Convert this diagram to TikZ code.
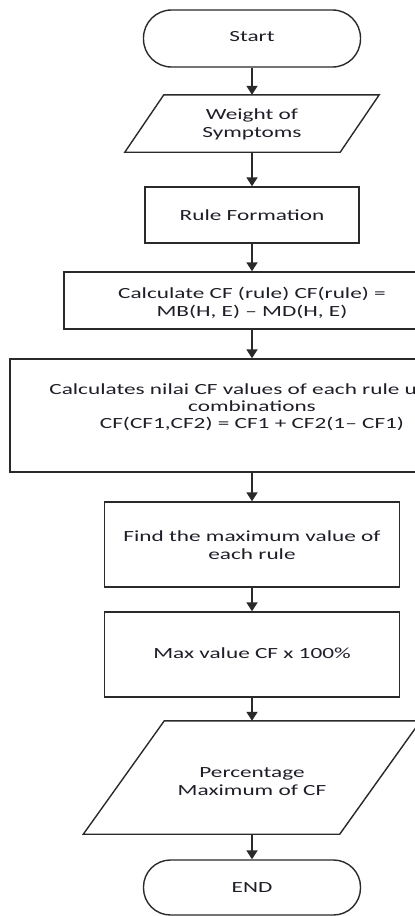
\documentclass[tikz,border=0pt]{standalone}
\usepackage{fontspec}
\setmainfont[FakeStretch=1.5]{Carlito}
\usetikzlibrary{arrows.meta,calc}
\definecolor{ln}{HTML}{2A2A2A}
\definecolor{tx}{HTML}{1E1E28}
\begin{document}
\begin{tikzpicture}[x=1pt,y=-1pt,
  shp/.style={draw=ln, line width=1.4pt, inner sep=0pt},
  hold/.style={inner sep=0pt},
  txt/.style={inner sep=0pt, text=tx, font=\fontsize{15.5}{18}\selectfont, align=center},
  arr/.style={draw=ln, line width=1.8pt, -{Triangle[width=11pt,length=9pt]}}]
\useasboundingbox (0,0) rectangle (415,916);
\clip (0,0) rectangle (415,916);
% shapes
\node[shp, rounded corners=28pt, minimum width=217pt, minimum height=57pt] (start) at (252,38.5) {};
\node[hold, minimum width=215pt, minimum height=57pt] (weight) at (252,123.5) {};
\draw[shp] ($(weight.north west)+(19.5,0)$) -- ($(weight.north east)+(19.5,0)$) -- ($(weight.south east)+(-19.5,0)$) -- ($(weight.south west)+(-19.5,0)$) -- cycle;
\node[shp, minimum width=214pt, minimum height=56pt] (rule) at (252,215) {};
\node[shp, minimum width=376pt, minimum height=57pt] (calc) at (252,300.5) {};
\node[shp, minimum width=484pt, minimum height=113pt] (comb) at (252,415.5) {};
\node[shp, minimum width=295pt, minimum height=85pt] (find) at (252,544.5) {};
\node[shp, minimum width=295pt, minimum height=85pt] (maxv) at (252,654.5) {};
\node[hold, minimum width=256pt, minimum height=113pt] (perc) at (252,777.5) {};
\draw[shp] ($(perc.north west)+(40.5,0)$) -- ($(perc.north east)+(40.5,0)$) -- ($(perc.south east)+(-40.5,0)$) -- ($(perc.south west)+(-40.5,0)$) -- cycle;
\node[shp, rounded corners=27pt, minimum width=217pt, minimum height=55pt] (end) at (252,887.5) {};
% texts
\node[txt] (tstart) at (252,37) {Start};
\node[txt] (tweight) at (252,124) {Weight of\\Symptoms};
\node[txt] (trule) at (252,215) {Rule Formation};
\node[txt] (tcalc) at (252,303) {Calculate CF (rule) CF(rule) =\\MB(H, E) -- MD(H, E)};
\node[txt] (tc1) at (252,390) {Calculates nilai CF values of each rule using};
\node[txt] (tc2) at (252,406) {combinations};
\node[txt] (tc3) at (252,424) {CF(CF1,CF2) = CF1 + CF2(1-- CF1)};
\node[txt] (tfind) at (252,545) {Find the maximum value of\\each rule};
\node[txt] (tmax) at (252,653) {Max value CF x 100\%};
\node[txt] (tperc) at (252,782) {Percentage\\Maximum of CF};
\node[txt] (tend) at (252,888) {END};
% connectors
\draw[arr] (start.south) -- (weight.north);
\draw[arr] (weight.south) -- (rule.north);
\draw[arr] (rule.south) -- (calc.north);
\draw[arr] (calc.south) -- (comb.north);
\draw[arr] (comb.south) -- (find.north);
\draw[arr] (find.south) -- (maxv.north);
\draw[arr] (maxv.south) -- (perc.north);
\draw[arr] (perc.south) -- (end.north);
\end{tikzpicture}
\end{document}
